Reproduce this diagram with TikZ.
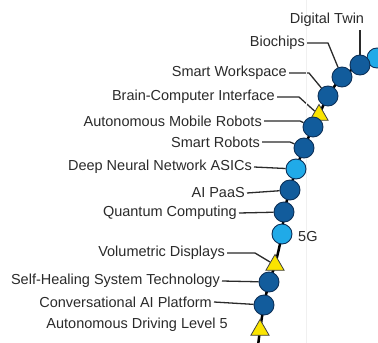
\documentclass[tikz,border=0pt]{standalone}
\usepackage{fontspec}
\setmainfont{Liberation Sans}
\usetikzlibrary{shapes.geometric}

\definecolor{techblue}{RGB}{18,92,156}
\definecolor{newblue}{RGB}{32,170,232}
\definecolor{techedge}{RGB}{12,48,88}
\definecolor{futureyellow}{RGB}{250,228,0}
\definecolor{labelgray}{RGB}{42,42,42}

\pgfdeclarelayer{background}
\pgfsetlayers{background,main}

\tikzset{
  tech/.style={circle,draw=techedge,line width=0.9pt,fill=techblue,minimum size=20pt,inner sep=0pt},
  newtech/.style={tech,fill=newblue},
  future/.style={regular polygon,regular polygon sides=3,draw=black!75,line width=0.8pt,fill=futureyellow,minimum size=21pt,inner sep=0pt},
  lbl/.style={anchor=east,text=labelgray,inner sep=2pt},
  leader/.style={draw=labelgray,line width=1.3pt}
}

\begin{document}
\begin{tikzpicture}[x=1pt,y=-1pt,font=\fontsize{14.5}{16}\selectfont]
    \useasboundingbox (0,0) rectangle (378,343);
    % divider
    \draw[gray!12,line width=0.8pt] (306,0) -- (306,343);

    % markers, top to bottom
    \foreach \nm/\pos/\kind in {nxt/{377,58}/newtech, dt/{360,65}/tech, bio/{342,77}/tech,
        sw/{328,96}/tech, bci/{319,115}/future, amr/{313,127}/tech, sr/{304,148}/tech,
        dnn/{296,169}/newtech, aip/{290,190}/tech, qc/{284,212}/tech, fiveg/{282,234}/newtech,
        vd/{275,265}/future, shs/{269,282}/tech, cai/{264,305}/tech, adl/{260,330}/future}
      \node[\kind] (\nm) at (\pos) {};
    \coordinate (bot) at (258,346);
    \coordinate (top) at (394,52);

    % labels
    \node[anchor=center,text=labelgray] (dtlab) at (327,20) {Digital Twin};
    \node[lbl] (biolab) at (307,43) {Biochips};
    \node[lbl] (swlab) at (289,73) {Smart Workspace};
    \node[lbl] (bcilab) at (277,97) {Brain-Computer Interface};
    \node[lbl] (amrlab) at (264,121) {Autonomous Mobile Robots};
    \node[lbl] (srlab) at (262,142) {Smart Robots};
    \node[lbl] (dnnlab) at (254,167) {Deep Neural Network ASICs};
    \node[lbl] (aiplab) at (247,193) {AI PaaS};
    \node[lbl] (qclab) at (239,213) {Quantum Computing};
    \node[anchor=west,text=labelgray,inner sep=2pt] (fiveglab) at (296,237) {5G};
    \node[lbl] (vdlab) at (227,253) {Volumetric Displays};
    \node[lbl] (shslab) at (222,281) {Self-Healing System Technology};
    \node[lbl] (cailab) at (214,302) {Conversational AI Platform};
    \node[lbl] (adllab) at (230,325) {Autonomous Driving Level 5};

    \begin{pgfonlayer}{background}
    % curve
    \draw[line width=2.5pt] plot[smooth] coordinates {(bot) (adl.center) (cai.center) (shs.center)
        (vd.center) (fiveg.center) (qc.center) (aip.center) (dnn.center) (sr.center) (amr.center)
        (bci.center) (sw.center) (bio.center) (dt.center) (nxt.center) (top)};
    % leaders
    \draw[leader] (dtlab.south -| dt) -- (dt);
    \draw[leader] (biolab.east) -- ++(21,0) -- (bio);
    \draw[leader] (swlab.east) -- ++(20,0) -- (sw);
    \draw[leader] (bcilab.east) -- ++(22,0) -- (bci);
    \draw[leader] (amrlab.east) -- ++(36,0) -- (amr);
    \draw[leader] (srlab.east) -- ++(28,0) -- (sr);
    \draw[leader] (dnnlab.east) -- (dnn);
    \draw[leader] (aiplab.east) -- (aip);
    \draw[leader] (qclab.east) -- (qc);
    \draw[leader] (vdlab.east) -- ++(28,0) -- (vd);
    \draw[leader] (shslab.east) -- (shs);
    \draw[leader] (cailab.east) -- (cai);
    \end{pgfonlayer}
\end{tikzpicture}
\end{document}
